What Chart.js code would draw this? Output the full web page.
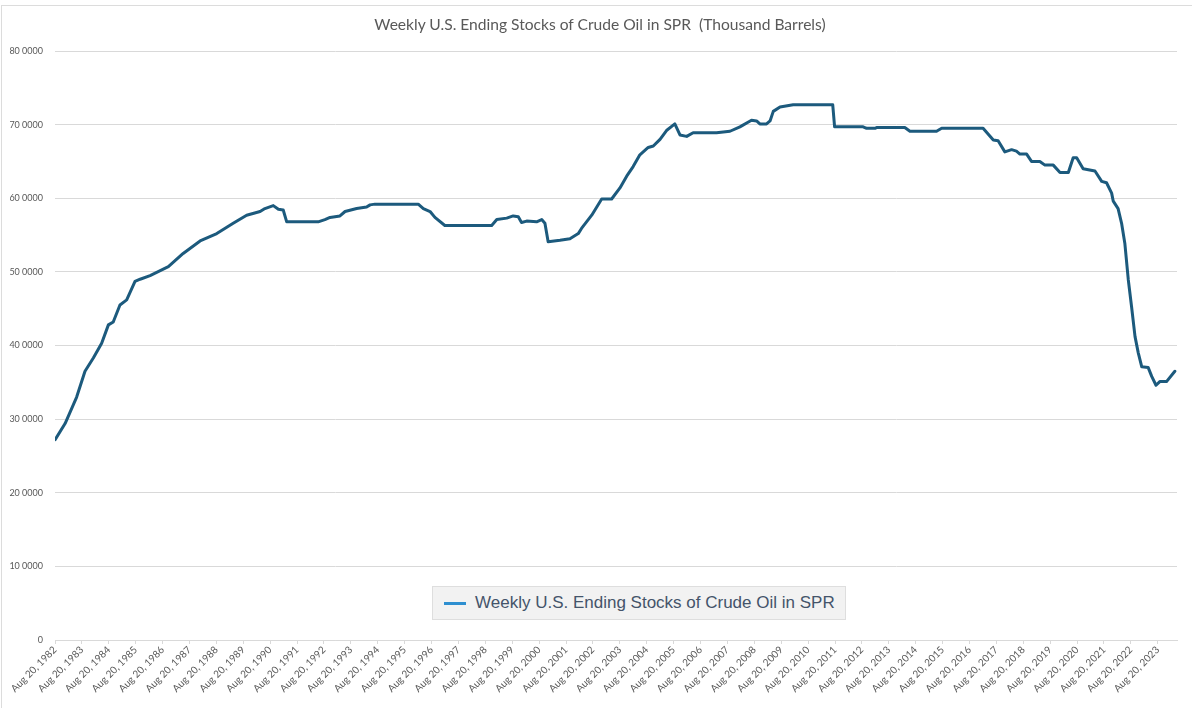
<!DOCTYPE html>
<html>
<head>
<meta charset="utf-8">
<script src="https://cdn.jsdelivr.net/npm/chart.js@4"></script>
<style>
html,body{margin:0;padding:0;background:#fff}
#wrap{position:relative;width:1192px;height:708px}
#frame{position:absolute;left:1px;top:5px;right:0;bottom:0;border-left:1px solid #dcdcdc;border-top:1px solid #dcdcdc}
#title{position:absolute;left:0;width:1200px;top:15px;text-align:center;font-family:Lato,sans-serif;font-size:15.6px;color:#595959;white-space:pre}
#legend{position:absolute;left:432px;top:586px;width:412px;height:32px;background:#f2f2f2;border:1px solid #dedede;
  font-family:"Liberation Sans",Arial,sans-serif;font-size:17px;color:#44546a;display:flex;align-items:center;white-space:nowrap}
#legend i{display:inline-block;width:22px;height:3px;margin:0 9px 0 11px}
</style>
</head>
<body>
<div id="wrap">
<div id="frame"></div>
<canvas id="c" width="1192" height="708"></canvas>
<div id="title">Weekly U.S. Ending Stocks of Crude Oil in SPR  (Thousand Barrels)</div>
<div id="legend"></div>
</div>
<script>
// decimal year of each read point, value in thousand barrels
const weeks=[1982.64,1983.01,1983.44,1983.75,1984.06,1984.37,1984.62,1984.80,1985.05,1985.30,1985.61,1985.80,1986.17,1986.85,1987.40,1988.03,1988.65,1989.26,1989.76,1990.26,1990.44,1990.75,1990.94,1991.12,1991.25,
1992.42,1992.67,1992.86,1993.23,1993.42,1993.85,1994.22,1994.35,1994.53,1996.14,1996.33,1996.58,1996.76,1997.13,1998.87,1999.06,1999.43,1999.67,1999.86,1999.98,2000.17,2000.54,2000.73,2000.85,2000.97,
2001.41,2001.78,2002.09,2002.21,2002.59,2002.96,2003.33,2003.64,2003.89,2004.13,2004.38,2004.69,2004.88,2005.13,2005.37,2005.68,2005.87,2006.12,2006.36,2007.23,2007.73,2008.10,2008.53,2008.72,2008.84,
2009.09,2009.22,2009.34,2009.59,2010.08,2011.55,2011.62,2012.68,2012.81,2013.12,2013.18,2014.23,2014.42,2015.41,2015.60,2017.14,2017.52,2017.70,2017.95,2018.20,2018.38,2018.51,2018.76,2018.94,2019.25,
2019.44,2019.75,2020.00,2020.31,2020.49,2020.62,2020.86,2021.30,2021.55,2021.73,2021.92,2021.98,2022.16,2022.29,2022.41,2022.54,2022.66,2022.79,2022.91,2023.04,2023.28,2023.41,2023.57,2023.71,2023.96,2024.27]
const stocks=[272000,294000,330000,365000,383000,403000,428000,432000,455000,462000,487000,490000,495000,507000,525000,542000,552000,566000,577000,582000,586000,590000,585000,584000,568000,
568000,571000,574000,576000,582000,586000,588000,591000,592000,592000,586000,582000,574000,563000,563000,571000,573000,576000,575000,567000,569000,568000,571000,566000,541000,
543000,545000,552000,559000,577000,599000,599000,614000,630000,643000,659000,669000,671000,680000,692000,701000,686000,684000,689000,689000,691000,697000,706000,705000,701000,
701000,705000,718000,724000,727000,727000,697000,697000,695000,695000,696000,696000,691000,691000,695000,695000,679000,678000,663000,666000,664000,660000,660000,650000,650000,
645000,645000,635000,635000,655000,655000,640000,637000,623000,621000,607000,596000,586000,566000,539000,489000,453000,412000,390000,371000,370000,358000,346000,351000,351000,365000]
const tickYears=[1982,1983,1984,1985,1986,1987,1988,1989,1990,1991,1992,1993,1994,1995,1996,1997,1998,1999,2000,2001,2002,2003,2004,2005,2006,2007,2008,2009,2010,2011,2012,2013,2014,2015,2016,2017,2018,2019,2020,2021,2022,2023]
const tickLabels=tickYears.map(y=>"Aug 20, "+y)
const seriesName="Weekly U.S. Ending Stocks of Crude Oil in SPR"
const aug20=0.635

const fmt4=v=>v===0?"0":Math.floor(v/10000)+" "+String(v%10000).padStart(4,"0")

const chart=new Chart(document.getElementById("c"),{
  type:"line",
  data:{datasets:[{
    label:seriesName,
    data:weeks.map((w,i)=>({x:w,y:stocks[i]})),
    borderColor:"#1c5a7d",borderWidth:3,pointRadius:0,tension:0,
    borderJoinStyle:"round",borderCapStyle:"round"
  }]},
  options:{
    responsive:false,animation:false,
    layout:{padding:{left:0,right:15,top:51,bottom:0}},
    plugins:{
      legend:{display:false},
      tooltip:{enabled:false},
      title:{display:false}
    },
    scales:{
      x:{type:"linear",min:1982+aug20,max:2024.35,
        afterBuildTicks:s=>{s.ticks=tickYears.map(y=>({value:y+aug20}))},
        afterFit:s=>{s.height=68},
        ticks:{autoSkip:false,maxRotation:45,minRotation:45,padding:0,color:"#595959",
          font:{family:"Lato",size:10},
          callback:(v,i)=>tickLabels[i]},
        grid:{drawOnChartArea:false,drawTicks:true,tickLength:4,color:"#d9d9d9"},
        border:{color:"#d9d9d9"}
      },
      y:{min:0,max:800000,
        afterFit:s=>{s.width=55},
        ticks:{stepSize:100000,color:"#595959",padding:12,font:{family:"Lato",size:9},callback:v=>fmt4(v)},
        grid:{color:"#d9d9d9",drawTicks:false},
        border:{display:false}
      }
    }
  }
})

// legend box placed inside the plot like the source
const lg=document.getElementById("legend")
const sw=document.createElement("i");sw.style.background="#2e8fd0"
lg.appendChild(sw)
lg.appendChild(document.createTextNode(chart.data.datasets[0].label))
</script>
</body>
</html>
